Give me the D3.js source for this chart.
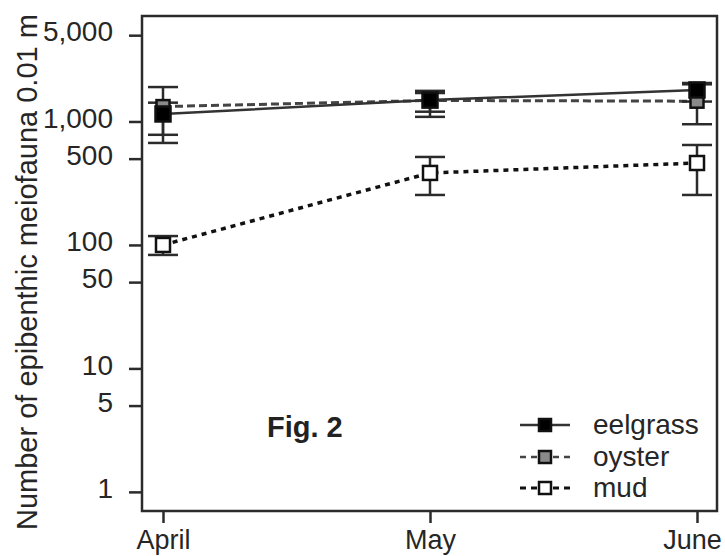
<!DOCTYPE html>
<html>
<head>
<meta charset="utf-8">
<script src="https://cdn.jsdelivr.net/npm/d3@7"></script>
<style>
    body { margin: 0; background: #fff; }
    svg { display: block; font-family: 'Liberation Sans', Arial, sans-serif; }
</style>
</head>
<body>
<script>
const months = ['April', 'May', 'June'];

// means and error bar ends
const eelgrass = [1150, 1490, 1800];
const eelgrassHi = [1900, 1770, 2050];
const eelgrassLo = [780, 1090, 1450];

const oyster = [1320, 1480, 1460];
const oysterHi = [1420, 1700, 2000];
const oysterLo = [670, 1200, 950];

const mud = [100, 383, 461];
const mudHi = [118, 516, 645];
const mudLo = [83, 254, 254];

const yTicks = [1, 5, 10, 50, 100, 500, 1000, 5000];
const seriesNames = ['eelgrass', 'oyster', 'mud'];

const config = {
    width: 725,
    height: 556,
    left: 142,
    right: 717,
    top: 16,
    bottom: 511,
    ink: '#2b2b2b',
    text: '#262626',
};

const series = [
    { name: 'eelgrass', mean: eelgrass, hi: eelgrassHi, lo: eelgrassLo,
      line: '#333', dash: null, width: 2.5, fill: '#000', size: 15 },
    { name: 'oyster', mean: oyster, hi: oysterHi, lo: oysterLo,
      line: '#444', dash: '8,4', width: 3, fill: '#8a8a8a', size: 13 },
    { name: 'mud', mean: mud, hi: mudHi, lo: mudLo,
      line: '#111', dash: '5,5', width: 3.5, fill: '#fff', size: 14 },
];

const svg = d3.select('body')
    .append('svg')
    .attr('width', config.width)
    .attr('height', config.height);

const x = d3.scalePoint()
    .domain(months)
    .range([163, 697]);

const y = d3.scaleLog()
    .domain([0.7, 7150])
    .range([config.bottom, config.top]);

// y axis
const yAxis = svg.append('g')
    .attr('transform', `translate(${config.left},0)`)
    .call(d3.axisLeft(y)
        .tickValues(yTicks)
        .tickFormat(d3.format(','))
        .tickSize(13)
        .tickPadding(16));
yAxis.select('.domain').remove();
yAxis.selectAll('line').attr('stroke', config.ink).attr('stroke-width', 2.5);
yAxis.selectAll('text')
    .attr('font-size', 28)
    .attr('fill', config.text)
    .attr('dy', '0.2em')
    .attr('font-family', null);

// x axis
const xAxis = svg.append('g')
    .attr('transform', `translate(0,${config.bottom})`)
    .call(d3.axisBottom(x).tickSize(12).tickPadding(7));
xAxis.select('.domain').remove();
xAxis.selectAll('line').attr('stroke', config.ink).attr('stroke-width', 2.5);
xAxis.selectAll('text')
    .attr('font-size', 27)
    .attr('fill', config.text)
    .attr('dx', (d, i) => i === months.length - 1 ? -5 : 0)
    .attr('font-family', null);

// frame
svg.append('rect')
    .attr('x', config.left)
    .attr('y', config.top)
    .attr('width', config.right - config.left)
    .attr('height', config.bottom - config.top)
    .attr('fill', 'none')
    .attr('stroke', config.ink)
    .attr('stroke-width', 2.5);

// y title
svg.append('text')
    .attr('transform', 'translate(37,530) rotate(-90)')
    .attr('font-size', 29)
    .attr('fill', config.text)
    .text('Number of epibenthic meiofauna 0.01 m');

const line = d3.line()
    .x((d, i) => x(months[i]))
    .y(d => y(d));

// lines, drawn back to front
series.slice().reverse().forEach(s => {
    svg.append('path')
        .datum(s.mean)
        .attr('d', line)
        .attr('fill', 'none')
        .attr('stroke', s.line)
        .attr('stroke-width', s.width)
        .attr('stroke-dasharray', s.dash);
});

// error bars
series.forEach(s => {
    const g = svg.append('g')
        .attr('stroke', config.ink)
        .attr('stroke-width', 2.5);

    const bars = g.selectAll('g')
        .data(months).enter()
        .append('g');

    bars.append('line')
        .attr('x1', d => x(d))
        .attr('x2', d => x(d))
        .attr('y1', (d, i) => y(s.hi[i]))
        .attr('y2', (d, i) => y(s.lo[i]));

    ['hi', 'lo'].forEach(k => {
        bars.append('line')
            .attr('x1', d => x(d) - 15)
            .attr('x2', d => x(d) + 15)
            .attr('y1', (d, i) => y(s[k][i]))
            .attr('y2', (d, i) => y(s[k][i]));
    });
});

// markers
series.slice().reverse().forEach(s => {
    svg.append('g')
        .selectAll('rect')
        .data(s.mean).enter()
        .append('rect')
            .attr('x', (d, i) => x(months[i]) - s.size / 2)
            .attr('y', d => y(d) - s.size / 2)
            .attr('width', s.size)
            .attr('height', s.size)
            .attr('fill', s.fill)
            .attr('stroke', '#111')
            .attr('stroke-width', 2.5);
});

svg.append('text')
    .attr('x', 267)
    .attr('y', 437)
    .attr('font-size', 29)
    .attr('font-weight', 'bold')
    .attr('fill', '#222')
    .text('Fig. 2');

// legend
const legend = svg.append('g')
    .selectAll('g')
    .data(series).enter()
    .append('g')
        .attr('transform', (d, i) => `translate(0,${[425, 457, 488][i]})`);

legend.append('line')
    .attr('x1', 520)
    .attr('x2', 570)
    .attr('stroke', d => d.line)
    .attr('stroke-width', d => d.name === 'mud' ? 3 : 2.5)
    .attr('stroke-dasharray', d => d.dash ? '6,5' : null);

legend.append('rect')
    .attr('x', 539)
    .attr('y', -6)
    .attr('width', 12)
    .attr('height', 12)
    .attr('fill', d => d.fill)
    .attr('stroke', '#111')
    .attr('stroke-width', 2.5);

legend.append('text')
    .attr('x', 593)
    .attr('y', 9)
    .attr('font-size', 28)
    .attr('fill', config.text)
    .text((d, i) => seriesNames[i]);
</script>
</body>
</html>
